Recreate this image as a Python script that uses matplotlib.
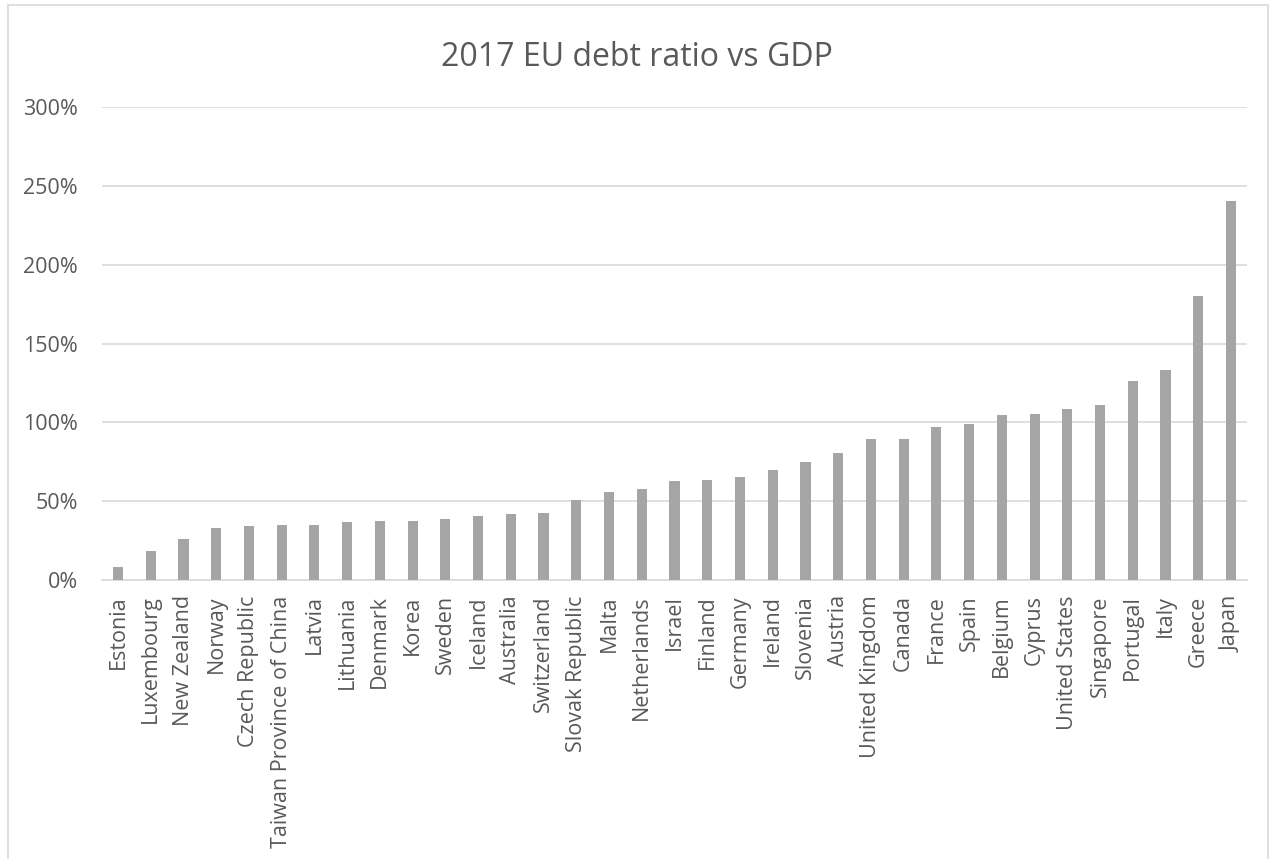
"""2017 EU debt ratio vs GDP - Excel-style column chart."""
import matplotlib
matplotlib.use('Agg')
import matplotlib.pyplot as plt
from matplotlib.patches import Rectangle
from matplotlib.ticker import FuncFormatter

countries = [
    'Estonia', 'Luxembourg', 'New Zealand', 'Norway', 'Czech Republic',
    'Taiwan Province of China', 'Latvia', 'Lithuania', 'Denmark', 'Korea',
    'Sweden', 'Iceland', 'Australia', 'Switzerland', 'Slovak Republic',
    'Malta', 'Netherlands', 'Israel', 'Finland', 'Germany', 'Ireland',
    'Slovenia', 'Austria', 'United Kingdom', 'Canada', 'France', 'Spain',
    'Belgium', 'Cyprus', 'United States', 'Singapore', 'Portugal', 'Italy',
    'Greece', 'Japan',
]
debt_pct = [
    8.5, 18.2, 26.0, 32.8, 34.0, 35.0, 35.2, 37.0, 37.3, 37.5,
    38.4, 40.9, 41.6, 42.4, 50.9, 55.8, 57.5, 62.8, 63.4, 65.1, 69.5,
    75.0, 80.5, 89.4, 89.6, 96.8, 98.9, 104.4, 105.6, 108.3, 110.8,
    126.0, 133.0, 180.3, 240.3,
]
yticks = [0, 50, 100, 150, 200, 250, 300]

TEXT = '#595959'
GRID = '#D9D9D9'
BAR = '#A5A5A5'
W, H = 1274, 859

plt.rcParams['font.family'] = ['Open Sans', 'DejaVu Sans']

fig = plt.figure(figsize=(W / 100, H / 100), dpi=100)
# chart area border
fig.patches.append(Rectangle((8 / W, -0.05), 1260 / W, 1.05 - 5 / H,
                             transform=fig.transFigure, fill=False,
                             edgecolor=GRID, lw=1.2))

ax = fig.add_axes([101.6 / W, 279 / H, (1247.4 - 101.6) / W, 473 / H])
x = range(len(countries))
ax.bar(x, debt_pct, width=0.31, color=BAR, zorder=3)

ax.set_xlim(-0.5, len(countries) - 0.5)
ax.set_ylim(0, 300)
ax.set_yticks(yticks)
ax.yaxis.set_major_formatter(FuncFormatter(lambda v, _: f'{v:.0f}%'))
ax.set_xticks(list(x))
ax.set_xticklabels(countries, rotation=90)

ax.grid(axis='y', color=GRID, lw=1.2, zorder=0)
for s in ['top', 'right', 'left']:
    ax.spines[s].set_visible(False)
ax.spines['bottom'].set_color(GRID)
ax.spines['bottom'].set_linewidth(1.2)
ax.tick_params(axis='both', length=0, colors=TEXT, labelsize=15.5)
ax.tick_params(axis='y', pad=17)
ax.tick_params(axis='x', pad=11)

fig.text(0.5, 1 - 57 / H, '2017 EU debt ratio vs GDP', ha='center',
         va='center', fontsize=23, color=TEXT)

fig.savefig('out.png', dpi=100)
